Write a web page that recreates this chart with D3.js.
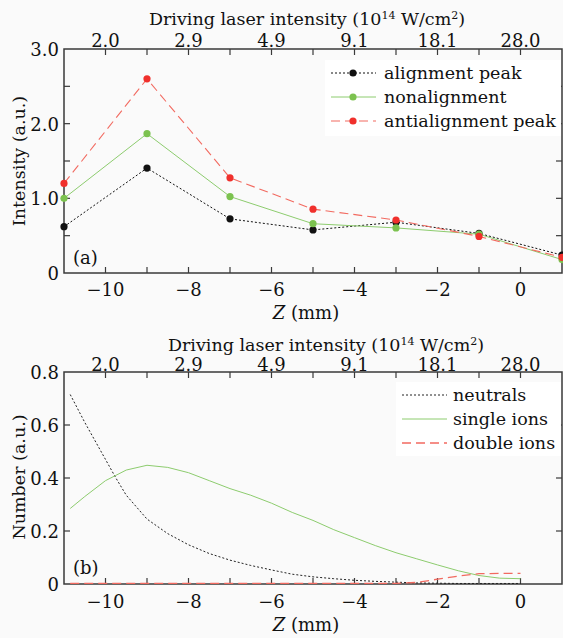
<!DOCTYPE html>
<html>
<head>
<meta charset="utf-8">
<script src="https://cdn.jsdelivr.net/npm/d3@7"></script>
<style>
  body { margin: 0; background: #fafafa; }
  svg { display: block; }
  text { font-family: "DejaVu Serif", serif; fill: #111; }
</style>
</head>
<body>
<svg id="chart" width="563" height="638"></svg>
<script>
// panel (a): measured intensities
const zA = [-11, -9, -7, -5, -3, -1, 1];
const alignmentPeak = [0.62, 1.405, 0.725, 0.577, 0.68, 0.53, 0.24];
const nonalignment = [1.0, 1.866, 1.024, 0.66, 0.604, 0.52, 0.18];
const antialignmentPeak = [1.2, 2.6, 1.275, 0.855, 0.71, 0.49, 0.21];

// panel (b): simulated populations
const zB = [-10.85, -10.5, -10, -9.75, -9.5, -9, -8.5, -8, -7.5, -7, -6.5, -6, -5.5, -5, -4.5, -4, -3.5, -3, -2.5, -2, -1.5, -1, -0.5, 0];
const neutrals = [0.715, 0.61, 0.47, 0.4, 0.335, 0.245, 0.19, 0.148, 0.115, 0.09, 0.07, 0.053, 0.037, 0.027, 0.02, 0.014, 0.01, 0.007, 0.004, 0.003, 0.002, 0.002, 0.002, 0.002];
const singleIons = [0.285, 0.33, 0.39, 0.41, 0.43, 0.448, 0.44, 0.42, 0.39, 0.36, 0.335, 0.305, 0.27, 0.24, 0.205, 0.175, 0.145, 0.118, 0.095, 0.072, 0.05, 0.032, 0.022, 0.02];
const doubleIons = [0.002, 0.002, 0.002, 0.002, 0.002, 0.002, 0.002, 0.002, 0.002, 0.002, 0.002, 0.002, 0.002, 0.002, 0.002, 0.002, 0.002, 0.002, 0.006, 0.018, 0.03, 0.039, 0.04, 0.04];

// top axis: driving laser intensity at even Z
const topTickZ = [-10, -8, -6, -4, -2, 0];
const topTickLabels = ["2.0", "2.9", "4.9", "9.1", "18.1", "28.0"];

const AXIS = "#3a3a3a";
const BLACK = "#111";
const GREEN = "#7cc24f";
const RED = "#f0302c";
const GREEN_LINE = "#8dcc6e";
const RED_LINE = "#f26a60";

const svg = d3.select("#chart");
const x = d3.scaleLinear().domain([-11, 1]).range([64, 562]);

function drawFrame({ y, yTicks, yMinor, yFmt, titleX, titleY, topLabelY, botLabelY, zLabelY, yLabel, yLabelY, tag, tagY }) {
  const [y0, y1] = y.range();
  const g = svg.append("g");
  const minorZ = d3.range(-10, 1, 1);
  // x ticks, bottom + top, pointing inward
  minorZ.forEach((z) => {
    g.append("line").attr("x1", x(z)).attr("x2", x(z)).attr("y1", y0).attr("y2", y0 - 6).attr("stroke", AXIS).attr("stroke-width", 1.2);
    g.append("line").attr("x1", x(z)).attr("x2", x(z)).attr("y1", y1).attr("y2", y1 + 6).attr("stroke", AXIS).attr("stroke-width", 1.2);
  });
  // y ticks, left + right
  yMinor.forEach((v) => {
    g.append("line").attr("x1", x(-11)).attr("x2", x(-11) + 6).attr("y1", y(v)).attr("y2", y(v)).attr("stroke", AXIS).attr("stroke-width", 1.2);
    g.append("line").attr("x1", x(1)).attr("x2", x(1) - 6).attr("y1", y(v)).attr("y2", y(v)).attr("stroke", AXIS).attr("stroke-width", 1.2);
  });
  g.append("rect")
    .attr("x", x(-11)).attr("y", y1)
    .attr("width", x(1) - x(-11)).attr("height", y0 - y1)
    .attr("fill", "none").attr("stroke", AXIS).attr("stroke-width", 1.5);

  // bottom tick labels
  d3.range(-10, 1, 2).forEach((z) => {
    g.append("text").attr("x", x(z)).attr("y", botLabelY).attr("text-anchor", "middle")
      .style("font-size", "18px").text(z < 0 ? "\u2212" + Math.abs(z) : String(z));
  });
  // top tick labels
  topTickZ.forEach((z, i) => {
    g.append("text").attr("x", x(z)).attr("y", topLabelY).attr("text-anchor", "middle")
      .style("font-size", "18px").text(topTickLabels[i]);
  });
  // y tick labels
  yTicks.forEach((v) => {
    g.append("text").attr("x", x(-11) - 5).attr("y", y(v) + 7).attr("text-anchor", "end")
      .style("font-size", "18px").text(yFmt(v));
  });
  // top title
  const t = g.append("text").attr("x", titleX).attr("y", titleY).attr("text-anchor", "middle").style("font-size", "17.5px");
  t.append("tspan").text("Driving laser intensity (10");
  t.append("tspan").attr("dy", -6).style("font-size", "11px").text("14");
  t.append("tspan").attr("dy", 6).text(" W/cm");
  t.append("tspan").attr("dy", -6).style("font-size", "11px").text("2");
  t.append("tspan").attr("dy", 6).text(")");
  // x label
  const xl = g.append("text").attr("x", 306).attr("y", zLabelY).attr("text-anchor", "middle").style("font-size", "18px");
  xl.append("tspan").style("font-style", "italic").text("Z");
  xl.append("tspan").text(" (mm)");
  // y label
  g.append("text").attr("transform", `translate(25,${yLabelY}) rotate(-90)`).attr("text-anchor", "middle")
    .style("font-size", "17.5px").text(yLabel);
  // panel tag
  g.append("text").attr("x", 73).attr("y", tagY).style("font-size", "18px").text(tag);
}

// ---------- panel (a) ----------
const yA = d3.scaleLinear().domain([0, 3]).range([273, 49]);
drawFrame({
  y: yA,
  yTicks: [0, 1, 2, 3],
  yMinor: d3.range(0.5, 3, 0.5),
  yFmt: (v) => (v === 0 ? "0" : v.toFixed(1)),
  titleX: 307, titleY: 25, topLabelY: 47, botLabelY: 296, zLabelY: 319,
  yLabel: "Intensity (a.u.)", yLabelY: 161, tag: "(a)", tagY: 264,
});

const seriesA = [
  { name: "alignment peak", values: alignmentPeak, line: BLACK, dot: BLACK, dash: "2,2", w: 1 },
  { name: "nonalignment", values: nonalignment, line: GREEN_LINE, dot: GREEN, dash: null, w: 1 },
  { name: "antialignment peak", values: antialignmentPeak, line: RED_LINE, dot: RED, dash: "9,5", w: 1.1 },
];
const lineA = d3.line().x((d) => x(d[0])).y((d) => yA(d[1]));
seriesA.forEach((s) => {
  const pts = zA.map((z, i) => [z, s.values[i]]);
  svg.append("path").attr("d", lineA(pts)).attr("fill", "none")
    .attr("stroke", s.line).attr("stroke-width", s.w).attr("stroke-dasharray", s.dash);
  svg.append("g").selectAll("circle").data(pts).join("circle")
    .attr("cx", (d) => x(d[0])).attr("cy", (d) => yA(d[1])).attr("r", 3.6).attr("fill", s.dot);
});

// legend (a)
const legA = svg.append("g");
legA.append("rect").attr("x", 325).attr("y", 60).attr("width", 236).attr("height", 76).attr("fill", "#ffffff");
seriesA.forEach((s, i) => {
  const ly = 73 + i * 24;
  legA.append("line").attr("x1", 331).attr("x2", 376).attr("y1", ly).attr("y2", ly)
    .attr("stroke", s.line).attr("stroke-width", s.w).attr("stroke-dasharray", s.dash);
  legA.append("circle").attr("cx", 353).attr("cy", ly).attr("r", 3.6).attr("fill", s.dot);
  legA.append("text").attr("x", 384).attr("y", ly + 6).style("font-size", "17.5px").text(s.name);
});

// ---------- panel (b) ----------
const yB = d3.scaleLinear().domain([0, 0.8]).range([584, 372]);
drawFrame({
  y: yB,
  yTicks: [0, 0.2, 0.4, 0.6, 0.8],
  yMinor: [0.2, 0.4, 0.6],
  yFmt: (v) => (v === 0 ? "0" : v.toFixed(1)),
  titleX: 326, titleY: 351, topLabelY: 371, botLabelY: 608, zLabelY: 631,
  yLabel: "Number (a.u.)", yLabelY: 477, tag: "(b)", tagY: 574,
});

const seriesB = [
  { name: "neutrals", values: neutrals, color: "#222", dash: "2,2", w: 1 },
  { name: "single ions", values: singleIons, color: GREEN_LINE, dash: null, w: 1 },
  { name: "double ions", values: doubleIons, color: RED_LINE, dash: "9,5", w: 1.3 },
];
const lineB = d3.line().x((d) => x(d[0])).y((d) => yB(d[1]));
seriesB.forEach((s) => {
  const pts = zB.map((z, i) => [z, s.values[i]]);
  svg.append("path").attr("d", lineB(pts)).attr("fill", "none")
    .attr("stroke", s.color).attr("stroke-width", s.w).attr("stroke-dasharray", s.dash);
});

// legend (b)
const legB = svg.append("g");
legB.append("rect").attr("x", 396).attr("y", 382).attr("width", 165).attr("height", 74).attr("fill", "#ffffff");
seriesB.forEach((s, i) => {
  const ly = 395 + i * 24;
  legB.append("line").attr("x1", 402).attr("x2", 447).attr("y1", ly).attr("y2", ly)
    .attr("stroke", s.color).attr("stroke-width", s.w).attr("stroke-dasharray", s.dash);
  legB.append("text").attr("x", 453).attr("y", ly + 6).style("font-size", "17.5px").text(s.name);
});
</script>
</body>
</html>
